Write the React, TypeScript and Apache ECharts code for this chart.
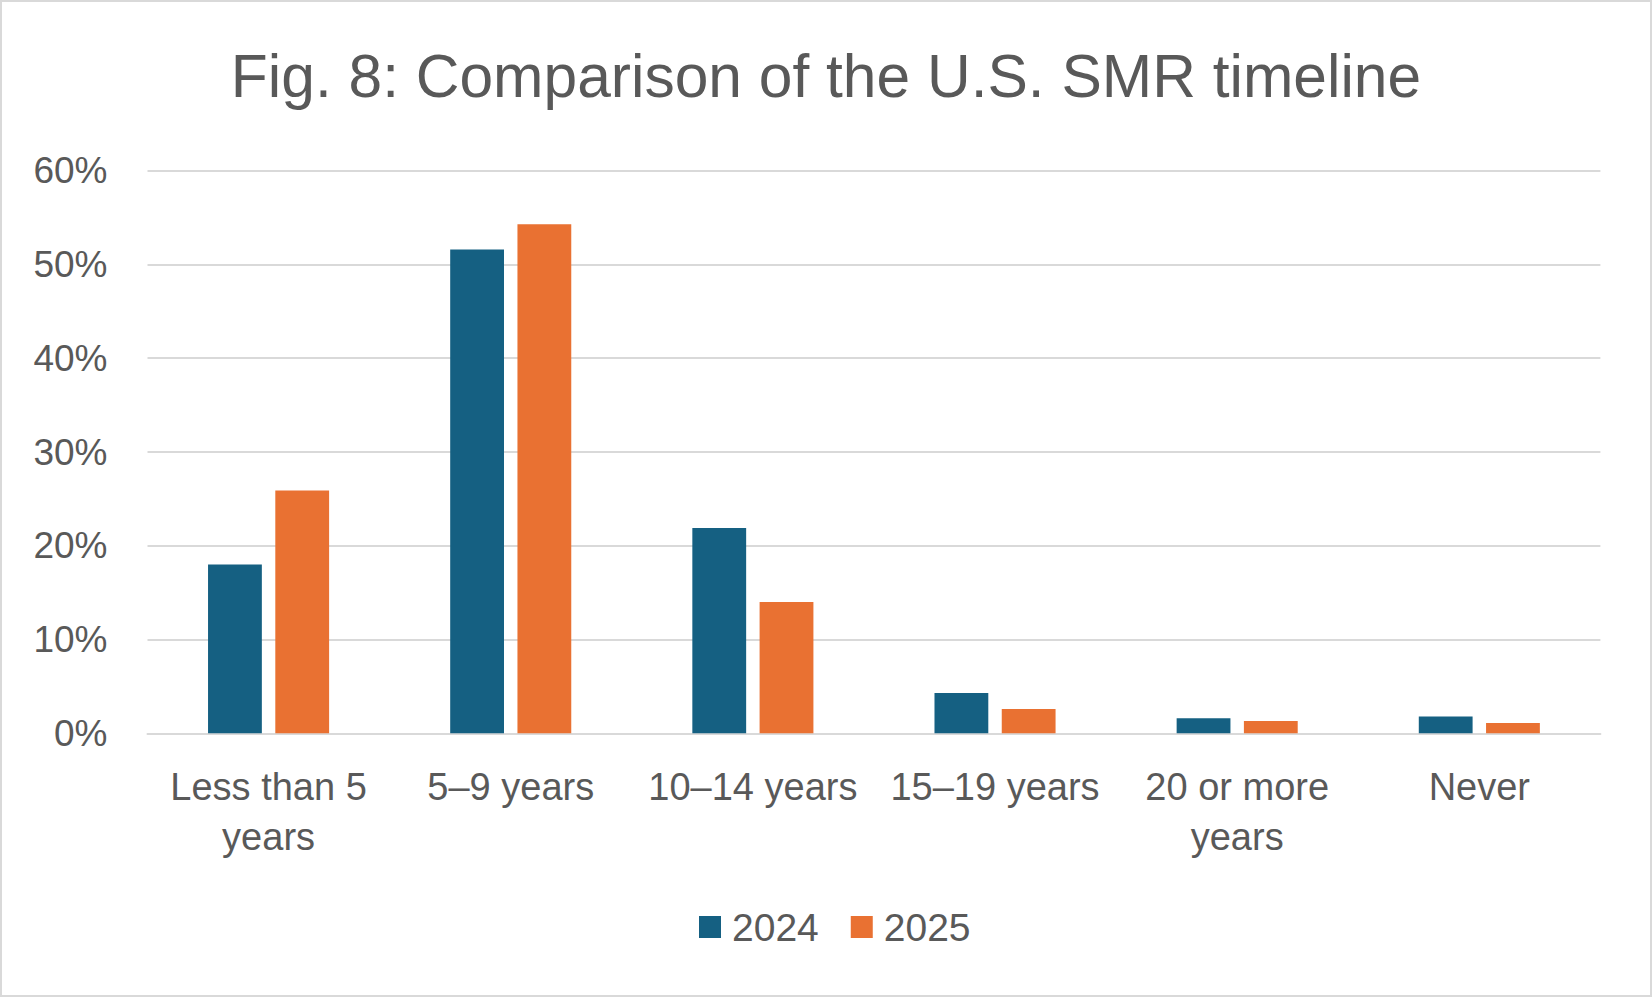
import React, { useEffect, useRef } from "react";
import * as echarts from "echarts";

const categories = ["Less than 5\nyears", "5–9 years", "10–14 years", "15–19 years", "20 or more\nyears", "Never"];
const values2024 = [18.0, 51.6, 21.9, 4.3, 1.6, 1.8];
const values2025 = [25.9, 54.3, 14.0, 2.6, 1.3, 1.1];
const seriesNames = ["2024", "2025"];
const yTicks = { min: 0, max: 60, interval: 10 };
const titleText = "Fig. 8: Comparison of the U.S. SMR timeline";

const FONT = "'Liberation Sans', Arial, sans-serif";
const GRAY = "#595959";
const LINE = "#d9d9d9";

export default function App() {
  const ref = useRef<HTMLDivElement>(null);
  useEffect(() => {
    if (!ref.current) return;
    const chart = echarts.init(ref.current, null, { renderer: "svg" });
    chart.setOption({
      animation: false,
      backgroundColor: "#ffffff",
      textStyle: { fontFamily: FONT },
      title: {
        text: titleText,
        left: "center",
        top: 45,
        padding: 0,
        textStyle: { fontFamily: FONT, fontSize: 60.5, fontWeight: "normal", color: GRAY, lineHeight: 62 },
      },
      graphic: [
        {
          type: "rect",
          shape: { x: 1, y: 1, width: 1650, height: 995 },
          style: { fill: "none", stroke: LINE, lineWidth: 2 },
          silent: true,
        },
      ],
      legend: {
        data: seriesNames,
        left: 694,
        top: 902,
        icon: "rect",
        itemWidth: 22,
        itemHeight: 22,
        itemGap: 32,
        textStyle: { fontFamily: FONT, fontSize: 39, color: GRAY, lineHeight: 40, padding: [0, 0, 0, 6] },
      },
      grid: { left: 147.5, right: 51.6, top: 170.7, bottom: 263.7, containLabel: false },
      xAxis: {
        type: "category",
        data: categories,
        axisLine: { show: true, lineStyle: { color: LINE, width: 2 } },
        axisTick: { show: false },
        axisLabel: {
          interval: 0,
          margin: 29,
          fontFamily: FONT,
          fontSize: 38,
          lineHeight: 50,
          color: GRAY,
        },
      },
      yAxis: {
        type: "value",
        min: yTicks.min,
        max: yTicks.max,
        interval: yTicks.interval,
        axisLine: { show: false },
        axisTick: { show: false },
        splitLine: { lineStyle: { color: LINE, width: 2 } },
        axisLabel: {
          margin: 40,
          fontFamily: FONT,
          fontSize: 37,
          color: GRAY,
          formatter: (v: number) => `${v}%`,
        },
      },
      series: [
        {
          name: seriesNames[0],
          type: "bar",
          data: values2024,
          itemStyle: { color: "#156082" },
          barGap: "25%",
          barCategoryGap: "50%",
        },
        {
          name: seriesNames[1],
          type: "bar",
          data: values2025,
          itemStyle: { color: "#E97132" },
          barGap: "25%",
          barCategoryGap: "50%",
        },
      ],
    });
    return () => chart.dispose();
  }, []);
  return (
    <div
      ref={ref}
      style={{ position: "fixed", left: 0, top: 0, width: 1652, height: 997, background: "#fff" }}
    />
  );
}
